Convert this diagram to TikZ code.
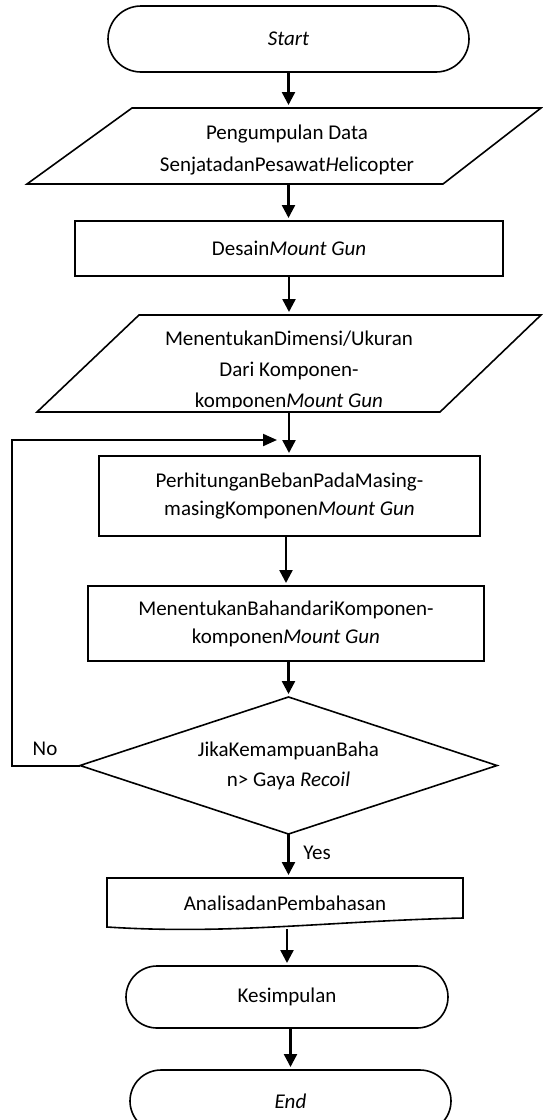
\documentclass[tikz,border=0pt]{standalone}
\usepackage{fontspec}
\setmainfont{Carlito}
\usetikzlibrary{shapes.geometric,arrows.meta,calc}
\begin{document}
\begin{tikzpicture}[x=1pt,y=-1pt,
  every node/.style={font=\fontsize{21pt}{28pt}\selectfont, inner sep=0pt, outer sep=0pt},
  shapeline/.style={line width=1.6pt},
  term/.style={draw, shapeline, rounded corners=31pt, minimum height=62pt, minimum width=#1},
  procbox/.style={draw, shapeline, align=center},
  flow/.style={line width=2.4pt, shorten >=3pt, -{Triangle[length=13pt,width=13pt]}},
  loopline/.style={line width=2pt, shorten >=3pt, -{Triangle[length=14pt,width=12pt]}},
  lbl/.style={font=\fontsize{21pt}{28pt}\selectfont}
]
\useasboundingbox (0,0) rectangle (543,1120);

% Start
\node[term=361pt, minimum height=66pt, rounded corners=33pt] (start) at (288.5,39) {\textit{Start}};

% Parallelogram 1
\draw[shapeline] (132,108) -- (541,108) -- (443,184) -- (27,184) -- cycle;
\coordinate (p1top) at (288.5,108);
\coordinate (p1bot) at (288.5,184);
\node[align=center] (data) at (287,150) {Pengumpulan Data\\[4pt]SenjatadanPesawat\textit{H}elicopter};

% Desain
\node[procbox, minimum width=428pt, minimum height=55pt] (desain) at (289,248.5) {Desain\textit{Mount Gun}};

% Parallelogram 2
\draw[shapeline] (139,315) -- (541,315) -- (440,412) -- (37,412) -- cycle;
\coordinate (p2top) at (289,315);
\coordinate (p2bot) at (289,412);
\begin{scope}
  \clip (0,315) rectangle (543,407);
  \node[align=center] (dimensi) at (289,371) {MenentukanDimensi/Ukuran\\[3pt]Dari Komponen-\\[3pt]komponen\textit{Mount Gun}};
\end{scope}

% Perhitungan
\node[procbox, minimum width=381pt, minimum height=80pt] (beban) at (289.5,496) {PerhitunganBebanPadaMasing-\\masingKomponen\textit{Mount Gun}};

% Menentukan bahan
\node[procbox, minimum width=396pt, minimum height=75pt] (bahan) at (286,623.5) {MenentukanBahandariKomponen-\\komponen\textit{Mount Gun}};

% Decision
\node[draw, shapeline, diamond, aspect=3, minimum width=417pt, minimum height=137pt, align=center] (dec) at (288.5,765.5) {JikaKemampuanBaha\\[2pt]n> Gaya \textit{Recoil}};

% Document shape
\draw[shapeline] (107,878) -- (463,878) -- (463,918) .. controls (330,921) and (230,935) .. (107,927) -- cycle;
\coordinate (doctop) at (286,878);
\coordinate (docbot) at (287,929);
\node (analisa) at (285,903) {AnalisadanPembahasan};

% Kesimpulan
\node[term=322pt] (kesimpulan) at (287,997) {Kesimpulan};

% End
\node[term=321pt] (end) at (290.5,1101) {\textit{End}};

% Connectors
\draw[flow] (start.south -| p1top) -- (p1top);
\draw[flow] (p1bot) -- (p1bot |- desain.north);
\draw[flow] (desain.south) -- (p2top);
\draw[flow] (p2bot) -- (p2bot |- beban.north);
\draw[flow] (beban.south -| bahan.north) -- (bahan.north);
\draw[flow] (bahan.south -| dec.north) -- (dec.north);
\draw[flow] (dec.south) -- (dec.south |- doctop);
\draw[flow] (docbot) -- (docbot |- kesimpulan.north);
\draw[flow] (kesimpulan.south -| end.north) -- (end.north);

\coordinate (loopleft) at (12,440);
\coordinate (loopin) at (280,440);
\draw[loopline] (dec.west) -| (loopleft) -- (loopin);

% Labels
\node[lbl] (no) at (45,749) {No};
\node[lbl] (yes) at (317,853) {Yes};
\end{tikzpicture}
\end{document}
